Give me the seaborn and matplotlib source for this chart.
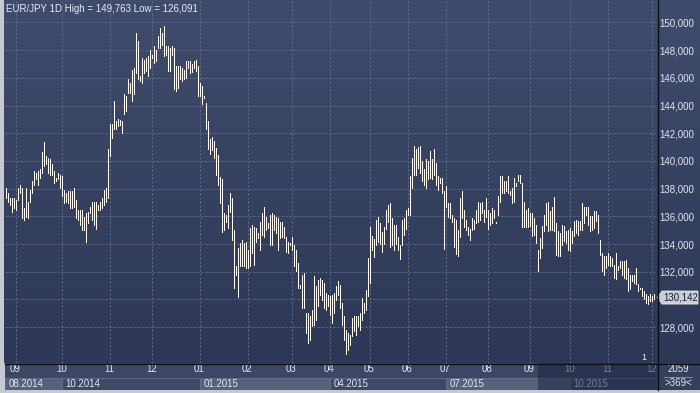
import numpy as np
import pandas as pd
import matplotlib
matplotlib.use("Agg")
import matplotlib.pyplot as plt
import seaborn as sns
from matplotlib.colors import LinearSegmentedColormap
from matplotlib.patches import Rectangle, Polygon
from matplotlib.lines import Line2D

# ---------------- data (EUR/JPY daily high / low) ----------------
high = [
    138.05, 137.68, 137.32, 137.32, 137.32, 137.2, 138.05, 138.29, 138.05, 136.59,
    138.05, 137.07, 137.93, 138.54, 139.27, 139.15, 139.27, 139.39, 140.61, 141.34,
    140.37, 140.24, 140.12, 139.76, 139.27, 138.78, 139.15, 139.02, 138.9, 137.93,
    137.68, 137.8, 137.8, 137.8, 138.05, 137.2, 136.46, 136.46, 136.46, 135.98,
    136.22, 136.34, 136.71, 137.07, 137.07, 137.07, 136.83, 137.07, 137.32, 137.93,
    138.05, 140.85, 142.64, 142.64, 144.32, 142.88, 143.0, 142.95, 142.88, 144.8,
    144.68, 145.88, 145.64, 146.6, 146.7, 149.23, 148.63, 146.1, 147.43, 147.31,
    147.43, 147.55, 148.03, 147.67, 148.27, 148.03, 148.99, 149.59, 149.23, 149.76,
    148.27, 148.27, 148.15, 148.27, 148.15, 146.83, 146.83, 146.83, 146.71, 146.59,
    147.19, 147.19, 147.19, 147.0, 147.19, 147.31, 146.83, 145.64, 145.4, 144.68,
    144.2, 142.88, 141.61, 141.73, 141.44, 140.96, 140.41, 138.85, 138.73, 136.22,
    136.1, 136.82, 137.66, 137.3, 135.02, 132.38, 133.7, 134.06, 134.3, 134.06,
    134.18, 133.58, 135.14, 135.38, 135.26, 135.14, 134.78, 135.62, 136.22, 136.7,
    135.98, 135.5, 136.1, 136.22, 136.1, 135.98, 135.86, 135.62, 135.62, 135.26,
    134.54, 134.18, 134.06, 134.54, 133.94, 133.58, 132.62, 131.06, 131.78, 131.9,
    129.02, 129.02, 128.78, 129.26, 131.66, 130.94, 131.42, 131.54, 131.42, 131.18,
    130.46, 130.34, 130.22, 130.34, 130.46, 130.94, 131.3, 131.06, 129.74, 128.78,
    127.82, 127.58, 127.46, 128.66, 128.78, 128.78, 128.78, 129.02, 130.1, 129.74,
    130.7, 132.98, 135.26, 134.6, 134.39, 135.73, 135.98, 135.49, 134.88, 135.24,
    136.46, 136.83, 136.95, 135.85, 135.37, 135.37, 134.51, 133.9, 135.73, 135.85,
    136.46, 136.59, 138.9, 140.24, 141.1, 140.85, 140.98, 141.1, 140.0, 139.39,
    140.12, 140.0, 140.73, 140.12, 140.85, 139.88, 138.9, 138.78, 138.78, 137.8,
    138.17, 136.95, 136.95, 136.1, 135.85, 135.73, 135.0, 137.32, 137.8, 136.46,
    135.73, 135.24, 135.12, 135.85, 135.73, 136.46, 137.07, 136.95, 137.07, 136.46,
    137.32, 136.46, 136.22, 136.59, 136.46, 135.61, 137.44, 138.9, 138.9, 138.54,
    138.54, 138.9, 137.8, 138.05, 138.78, 138.41, 139.02, 139.02, 138.41, 137.07,
    136.46, 136.59, 136.22, 136.24, 135.88, 135.4, 133.6, 134.44, 135.28, 136.12,
    136.95, 137.07, 136.36, 136.71, 137.43, 135.52, 134.92, 134.8, 135.4, 135.28,
    134.92, 135.04, 135.16, 134.92, 135.64, 135.76, 135.64, 135.64, 136.95, 136.71,
    136.71, 136.71, 135.99, 135.99, 136.36, 136.36, 136.12, 134.32, 133.36, 133.12,
    133.12, 133.36, 133.12, 133.0, 132.52, 133.36, 132.4, 132.76, 132.76, 132.76,
    132.88, 132.28, 131.8, 131.8, 131.8, 132.28, 131.08, 130.84, 130.84, 130.6,
    130.36, 130.24, 130.36, 130.24, 130.36,
]
low = [
    137.32, 137.07, 136.83, 136.34, 136.59, 136.46, 137.2, 137.68, 135.85, 135.73,
    135.98, 135.85, 137.07, 137.68, 138.29, 138.66, 138.29, 138.78, 139.15, 139.63,
    139.76, 139.15, 139.02, 139.02, 138.41, 138.54, 138.66, 138.05, 137.44, 136.95,
    137.07, 136.95, 136.59, 136.59, 136.71, 135.85, 135.73, 135.37, 135.0, 135.0,
    134.15, 135.49, 136.22, 135.73, 135.37, 135.12, 136.46, 136.46, 136.59, 136.83,
    137.07, 137.3, 140.36, 141.68, 142.28, 142.28, 142.52, 142.6, 142.04, 143.36,
    143.6, 144.92, 144.92, 144.32, 144.8, 146.35, 145.88, 145.76, 145.64, 146.35,
    146.47, 146.11, 146.71, 147.43, 147.07, 147.19, 148.15, 148.15, 148.39, 147.55,
    147.67, 146.47, 146.47, 147.67, 145.16, 145.04, 145.28, 145.88, 145.76, 145.88,
    146.0, 146.71, 146.35, 146.4, 146.71, 146.47, 144.68, 144.68, 144.08, 144.56,
    142.28, 140.89, 140.53, 140.77, 140.24, 138.97, 138.25, 136.94, 134.9, 135.02,
    135.62, 135.14, 136.34, 134.3, 130.82, 131.78, 130.15, 132.38, 132.38, 132.38,
    132.26, 132.26, 132.38, 133.34, 132.5, 134.18, 134.42, 133.58, 134.66, 134.54,
    135.02, 135.14, 133.94, 133.94, 135.02, 134.78, 133.58, 134.42, 134.54, 134.42,
    133.46, 133.34, 133.94, 133.58, 132.38, 132.02, 130.82, 130.82, 129.38, 129.38,
    127.58, 126.86, 127.1, 128.06, 128.18, 128.54, 129.5, 130.34, 129.98, 129.38,
    129.26, 129.5, 128.9, 128.3, 129.02, 129.98, 130.34, 129.38, 128.18, 127.1,
    126.09, 126.38, 126.74, 127.34, 127.7, 127.46, 128.06, 127.82, 128.54, 129.02,
    129.26, 130.22, 131.18, 133.54, 133.05, 133.9, 134.15, 134.02, 133.41, 134.02,
    135.12, 135.61, 133.78, 133.9, 133.54, 134.02, 133.54, 132.93, 133.9, 134.63,
    135.12, 136.1, 136.1, 138.05, 139.02, 139.02, 139.51, 139.15, 138.54, 138.29,
    138.05, 138.66, 138.78, 138.66, 139.02, 138.29, 137.93, 138.41, 137.68, 133.66,
    136.71, 135.98, 135.85, 135.61, 133.78, 133.29, 133.17, 134.51, 135.85, 135.24,
    135.0, 134.63, 134.27, 135.0, 135.12, 135.49, 135.61, 135.73, 136.22, 135.61,
    135.98, 135.12, 135.37, 135.49, 135.85, 135.49, 136.1, 137.07, 137.68, 137.68,
    137.8, 137.68, 137.56, 136.95, 137.07, 138.17, 138.54, 138.41, 135.24, 135.24,
    135.24, 135.24, 135.28, 134.56, 134.68, 134.08, 132.04, 133.0, 133.72, 134.92,
    135.4, 134.92, 135.04, 135.04, 134.92, 133.24, 133.12, 133.12, 133.96, 134.2,
    134.08, 133.6, 133.48, 134.08, 134.56, 134.8, 134.68, 135.04, 135.04, 135.52,
    136.12, 135.4, 134.92, 135.04, 135.16, 135.64, 134.8, 133.24, 132.04, 131.8,
    132.28, 132.52, 132.4, 132.4, 131.56, 131.44, 132.16, 132.28, 131.8, 131.56,
    131.44, 130.6, 130.72, 131.32, 131.2, 131.08, 130.6, 130.72, 130.24, 130.0,
    129.76, 129.64, 129.88, 129.88, 130.0,
]
month_labels = ["09", "10", "11", "12", "01", "02", "03", "04",
                "05", "06", "07", "08", "09", "10", "11", "12"]
month_start = [5, 28, 52, 73, 97, 121, 143, 162, 182, 201, 220, 241, 262, 282, 301, 323]
period_labels = ["08.2014", "10.2014", "01.2015", "04.2015", "07.2015", "10.2015"]
period_month = [None, 1, 4, 7, 10, 13]      # index into month_start where the period begins
price_ticks = [128, 130, 132, 134, 136, 138, 140, 142, 144, 146, 148, 150]
last_price = 130.142
title_text = "EUR/JPY 1D High = 149,763 Low = 126,091"
overlay_start = 266
bottom_counts = ["2059", ">369<"]

# ---------------- layout helpers ----------------
W, H = 700, 393
def fx(px):
    return px / W
def fy(py):
    return 1 - py / H

plt.rcParams["font.family"] = ["Liberation Sans", "DejaVu Sans"]
fig = plt.figure(figsize=(7.0, 3.93), dpi=100, facecolor="#c4c9d2")

bg_cmap = LinearSegmentedColormap.from_list("bg", ["#404c6b", "#2c3856"])

# background panel (plot + right price scale)
bg = fig.add_axes([fx(4), fy(363), fx(696), 363 / H])
bg.imshow(np.linspace(0, 1, 256).reshape(-1, 1), cmap=bg_cmap, aspect="auto",
          extent=[0, 1, 0, 1], origin="upper")
bg.set_axis_off()

n = len(high)
xmin, xmax = -0.25, -0.25 + 652 / 2
ymax = 151.62
ymin = ymax - 363 / 13.85

ax = fig.add_axes([fx(5), fy(363), fx(652), 363 / H])
ax.patch.set_alpha(0)
ax.set_xlim(xmin, xmax)
ax.set_ylim(ymin, ymax)

# dashed grid
grid_kw = dict(color="#5e6c8a", lw=0.72, ls=(0, (2, 2)), zorder=1)
for v in price_ticks:
    ax.axhline(v, **grid_kw)
for m in month_start:
    ax.axvline(m, **grid_kw)

# high-low bars via seaborn
idx = np.arange(n)
df = pd.DataFrame({
    "bar": np.repeat(idx, 2),
    "price": np.column_stack([low, high]).ravel(),
})
sns.lineplot(data=df, x="bar", y="price", units="bar", estimator=None, sort=False,
             color="#fffaf4", linewidth=0.55, ax=ax, legend=False, zorder=3,
             solid_capstyle="butt", antialiased=False)
ax.set_xlabel("")
ax.set_ylabel("")
ax.set_xticks([])
for s in ax.spines.values():
    s.set_visible(False)

# price scale labels (the 130 label is hidden behind the last-price callout)
label_ticks = [v for v in price_ticks if abs(v - last_price) > 1]
ax.yaxis.tick_right()
ax.set_yticks(label_ticks)
ax.set_yticklabels([f"{v:.3f}".replace(".", ",") for v in label_ticks])
ax.tick_params(axis="y", length=0, pad=1.6, labelsize=7, labelcolor="#e2e7f0")

# title
fig.text(fx(5.5), fy(8.5), title_text, fontsize=7, color="#e6eaf2", va="center", ha="left")

# small marker "1"
fig.text(fx(641), fy(358), "1", fontsize=6.5, color="#f0f0f0", va="center", ha="left")

# last price callout
yp = 22.5 + (150 - last_price) * 13.85
poly = Polygon([(fx(657.5), fy(yp)), (fx(662), fy(yp - 6.5)), (fx(698), fy(yp - 6.5)),
                (fx(698), fy(yp + 6.5)), (fx(662), fy(yp + 6.5))],
               closed=True, transform=fig.transFigure, facecolor="#c9cdd5",
               edgecolor="#e9ebef", lw=0.6, zorder=5)
fig.add_artist(poly)
fig.text(fx(663), fy(yp), f"{last_price:.3f}".replace(".", ","), fontsize=7,
         color="#1b2133", va="center", ha="left", zorder=6)

# bottom bands
band = fig.add_axes([fx(5), fy(390), fx(652), 27 / H])
band.set_xlim(xmin, xmax)
band.set_ylim(27, 0)
band.set_axis_off()
band.add_patch(Rectangle((xmin, 0), xmax - xmin, 27, facecolor="#3b4764", edgecolor="none", zorder=0))
for m, lab in zip(month_start, month_labels):
    band.text(m, 6.5, lab, fontsize=7, color="#e2e7f0", ha="center", va="center", zorder=2,
              clip_on=True)
starts = [xmin if p is None else month_start[p] for p in period_month]
ends = starts[1:] + [xmax]
for k, (s, e, lab) in enumerate(zip(starts, ends, period_labels)):
    fc = "#56627b" if k % 2 == 0 else "#3d4966"
    band.add_patch(Rectangle((s, 14.5), e - s, 12.5, facecolor=fc, edgecolor="#66728a",
                             lw=0.6, zorder=1))
    band.text(s + 2, 21, lab, fontsize=7, color="#e2e7f0", ha="left", va="center", zorder=2,
              clip_on=True)
band.add_patch(Rectangle((overlay_start, 0), xmax - overlay_start, 27, facecolor="#1c2640",
                         alpha=0.55, edgecolor="none", zorder=4))

# bottom-right counter box
fig.add_artist(Rectangle((fx(657), fy(390)), fx(43), 27 / H, transform=fig.transFigure,
                         facecolor="#34405c", edgecolor="none", zorder=1))
fig.text(fx(678.5), fy(369.5), bottom_counts[0], fontsize=7, color="#e2e7f0", ha="center", va="center")
fig.add_artist(Line2D([fx(664), fx(692)], [fy(376.5)] * 2, color="#8b95aa", lw=0.6))
fig.text(fx(678.5), fy(383.5), bottom_counts[1], fontsize=7, color="#e2e7f0", ha="center", va="center")

# frame lines
fig.add_artist(Line2D([fx(5), fx(700)], [fy(363.5)] * 2, color="#0b0f18", lw=1.0, zorder=6))
fig.add_artist(Line2D([fx(657.5)] * 2, [fy(0), fy(390)], color="#0b0f18", lw=1.0, zorder=6))

fig.savefig("out.png", dpi=100, facecolor=fig.get_facecolor())
